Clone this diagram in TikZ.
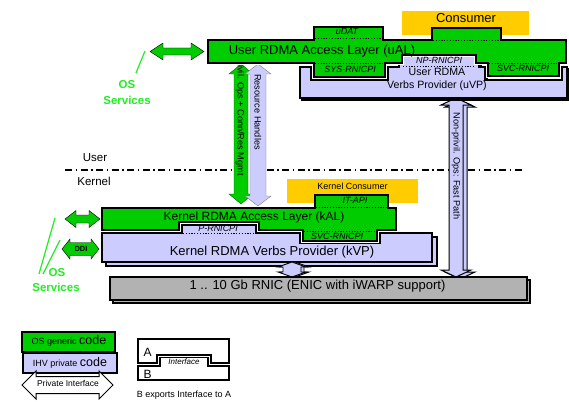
\documentclass[tikz,border=0pt]{standalone}
\usepackage{fontspec}
\setmainfont{Liberation Sans}
\definecolor{osgreen}{HTML}{00CC00}
\definecolor{lav}{HTML}{CCCCFF}
\definecolor{cons}{HTML}{FFCC00}
\definecolor{rgray}{HTML}{B2B2B2}
\definecolor{svcgreen}{HTML}{22EE22}
% vertical double arrow: x, ytop, ybottom, shaft half, head half, head length, style
\newcommand\vdarr[7]{\draw[#7] (#1,#2) -- ({#1+#5},{#2+#6}) -- ({#1+#4},{#2+#6}) -- ({#1+#4},{#3-#6}) -- ({#1+#5},{#3-#6}) -- (#1,#3) -- ({#1-#5},{#3-#6}) -- ({#1-#4},{#3-#6}) -- ({#1-#4},{#2+#6}) -- ({#1-#5},{#2+#6}) -- cycle;}
% horizontal double arrow: xleft, xright, y, shaft half, head half, head length, style
\newcommand\hdarr[7]{\draw[#7] (#1,#3) -- ({#1+#6},{#3-#5}) -- ({#1+#6},{#3-#4}) -- ({#2-#6},{#3-#4}) -- ({#2-#6},{#3-#5}) -- (#2,#3) -- ({#2-#6},{#3+#5}) -- ({#2-#6},{#3+#4}) -- ({#1+#6},{#3+#4}) -- ({#1+#6},{#3+#5}) -- cycle;}
\begin{document}
\begin{tikzpicture}[x=1pt,y=-1pt,
  box/.style={draw=black, line width=1.4pt, line join=miter},
  gapline/.style={draw=white, line width=4pt, line join=miter},
  lbl/.style={font=\fontsize{13}{14}\selectfont, inner sep=0pt},
  mlbl/.style={font=\fontsize{10.6}{12}\selectfont, inner sep=0pt},
  slbl/.style={font=\fontsize{9.2}{10}\selectfont, inner sep=0pt},
  ilbl/.style={font=\fontsize{9}{10}\selectfont\itshape, inner sep=0pt, text=black},
  dots/.style={line width=0.9pt, dash pattern=on 1.2pt off 1.6pt},
  ossvc/.style={font=\fontsize{11.5}{12}\selectfont\bfseries, text=svcgreen, inner sep=0pt},
  osline/.style={draw=svcgreen, line width=1.2pt}]
\useasboundingbox[fill=white] (0,0) rectangle (569,401);

% user / kernel boundary
\draw[line width=1.5pt, dash pattern=on 7pt off 3.5pt on 1.5pt off 3.5pt] (65,170) -- (522,170);
\node[font=\fontsize{11.5}{12}\selectfont, inner sep=0pt] (user) at (95,158) {User};
\node[font=\fontsize{11.5}{12}\selectfont, inner sep=0pt] (kernel) at (94,181) {Kernel};

% privileged ops / resource handles arrows
\vdarr{241}{64}{204}{7}{12}{10}{fill=osgreen, draw=green!40!black, line width=0.4pt}
\vdarr{258}{64}{206}{8}{13}{10}{fill=lav, draw=gray, line width=0.4pt}
\node[slbl, rotate=-90] (privops) at (240,116) {Privil. Ops + Conn/Res Mgmt};
\node[slbl, rotate=-90] (reshandles) at (258,112) {Resource Handles};

% fast path arrow
\vdarr{460}{100}{279}{7}{15}{7}{fill=lav, draw=black, line width=1pt}
\vdarr{456}{98}{277}{7}{15}{7}{fill=lav, draw=black, line width=1pt}
\node[slbl, rotate=-90] (fastpath) at (456,166) {Non-privil. Ops: Fast Path};

% ---------- user space ----------
\draw[box, fill=lav] (302,69) -- (313,69) -- (313,82) -- (390,82) -- (390,69) -- (401,69) -- (401,53) -- (481,53) -- (481,69) -- (487,69) -- (487,82) -- (564,82) -- (564,69) -- (569,69) -- (569,100) -- (302,100) -- cycle;
\draw[box, fill=lav] (300,67) -- (311,67) -- (311,80) -- (388,80) -- (388,67) -- (399,67) -- (399,51) -- (479,51) -- (479,67) -- (485,67) -- (485,80) -- (562,80) -- (562,67) -- (567,67) -- (567,98) -- (300,98) -- cycle;
\path[gapline] (208,40) -- (314,40) -- (314,27) -- (383,27) -- (383,40) -- (432,40) -- (432,28) -- (501,28) -- (501,40) -- (566,40) -- (566,63) -- (559,63) -- (559,76) -- (488,76) -- (488,63) -- (476,63) -- (476,55) -- (402,55) -- (402,63) -- (385,63) -- (385,77) -- (314,77) -- (314,63) -- (208,63) -- cycle;
\fill[cons] (402,11) rectangle (529,35);
\node[lbl] (consumer) at (466,18.5) {Consumer};
\draw[box, fill=osgreen] (208,40) -- (314,40) -- (314,27) -- (383,27) -- (383,40) -- (432,40) -- (432,28) -- (501,28) -- (501,40) -- (566,40) -- (566,63) -- (559,63) -- (559,76) -- (488,76) -- (488,63) -- (476,63) -- (476,55) -- (402,55) -- (402,63) -- (385,63) -- (385,77) -- (314,77) -- (314,63) -- (208,63) -- cycle;
\draw[dots] (315,38) -- (382,38);
\draw[dots] (433,40) -- (500,40);
\draw[dots] (315,63) -- (384,63);
\draw[dots] (489,63) -- (558,63);
\draw[dots] (403,66) -- (475,66);
\node[lbl] (ual) at (322,51) {User RDMA Access Layer (uAL)};
\node[ilbl] (udat) at (347,31.5) {uDAT};
\node[ilbl] (sysrnicpi) at (350,69.5) {SYS-RNICPI};
\node[ilbl] (nprnicpi) at (439,60) {NP-RNICPI};
\node[ilbl] (svcu) at (523,68.5) {SVC-RNICPI};
\node[mlbl] (uvp1) at (437,72) {User RDMA};
\node[mlbl] (uvp2) at (437,86) {Verbs Provider (uVP)};

% ---------- kernel space ----------
\draw[box, fill=lav] (106,237) -- (186,237) -- (186,229) -- (260,229) -- (260,237) -- (304,237) -- (304,247) -- (384,247) -- (384,237) -- (437,237) -- (437,266) -- (106,266) -- cycle;
\draw[box, fill=lav] (102,233) -- (182,233) -- (182,225) -- (256,225) -- (256,233) -- (300,233) -- (300,243) -- (380,243) -- (380,233) -- (432,233) -- (432,262) -- (102,262) -- cycle;
\path[gapline] (102,208) -- (315,208) -- (315,195) -- (388,195) -- (388,208) -- (396,208) -- (396,230) -- (377,230) -- (377,241) -- (303,241) -- (303,230) -- (259,230) -- (259,222) -- (179,222) -- (179,230) -- (102,230) -- cycle;
\fill[cons] (287,179) rectangle (418,203);
\node[font=\fontsize{9}{10}\selectfont, inner sep=0pt] (kcons) at (352.5,186) {Kernel Consumer};
\draw[box, fill=osgreen] (102,208) -- (315,208) -- (315,195) -- (388,195) -- (388,208) -- (396,208) -- (396,230) -- (377,230) -- (377,241) -- (303,241) -- (303,230) -- (259,230) -- (259,222) -- (179,222) -- (179,230) -- (102,230) -- cycle;
\draw[dots] (316,207) -- (387,207);
\draw[dots] (304,231) -- (376,231);
\draw[dots] (183,233) -- (255,233);
\node[font=\fontsize{12}{13}\selectfont, inner sep=0pt] (kal) at (254,217.5) {Kernel RDMA Access Layer (kAL)};
\node[ilbl] (itapi) at (355,200.5) {IT-API};
\node[ilbl] (svck) at (337,236.5) {SVC-RNICPI};
\node[ilbl] (prnicpi) at (218,228) {P-RNICPI};
\node[lbl] (kvp) at (272,252) {Kernel RDMA Verbs Provider (kVP)};

% kVP <-> RNIC
\vdarr{295}{262}{277}{9}{14}{5}{fill=lav, draw=black, line width=0.9pt}
\vdarr{292}{262}{277}{9}{14}{5}{fill=lav, draw=black, line width=0.9pt}

% RNIC
\draw[box, fill=rgray] (113,280) rectangle (530,303);
\draw[box, fill=rgray] (110,277) rectangle (527,300);
\node[lbl] (rnic) at (317.5,286.5) {1 .. 10 Gb RNIC (ENIC with iWARP support)};

% OS services (user)
\hdarr{150}{204}{51.5}{3.5}{8.5}{13}{fill=osgreen}
\draw[osline] (145,51) -- (136,73);
\node[ossvc] (os1) at (127,85) {OS};
\node[ossvc] (svc1) at (127,100.5) {Services};

% OS services (kernel)
\hdarr{65}{100}{219}{4}{8.5}{11}{fill=osgreen}
\hdarr{62}{99}{249}{6.5}{10}{8}{fill=osgreen}
\node[font=\fontsize{7.5}{8}\selectfont\bfseries, inner sep=0pt] (ddi) at (81,248.5) {DDI};
\draw[osline] (55,218) -- (39,274);
\draw[osline] (60,240) -- (43,274);
\node[ossvc] (os2) at (57,273) {OS};
\node[ossvc] (svc2) at (56,287.5) {Services};

% legend: code kinds
\draw[draw=black, line width=1.5pt, fill=osgreen] (22,332) rectangle (115,352);
\node[inner sep=0pt] (osgen) at (69,341) {\fontsize{9}{10}\selectfont OS generic \fontsize{12.5}{13}\selectfont code};
\draw[draw=black, line width=1.5pt, fill=lav] (23,353) rectangle (117,373);
\node[inner sep=0pt] (ihv) at (70,362.5) {\fontsize{9}{10}\selectfont IHV private \fontsize{12.5}{13}\selectfont code};
\hdarr{22}{113}{385}{8.5}{14}{14}{fill=white, draw=black, line width=1pt}
\node[font=\fontsize{8.5}{9}\selectfont, inner sep=0pt] (privif) at (68,383) {Private Interface};

% legend: interface
\draw[draw=black, line width=1.3pt, fill=white] (138,339) -- (229,339) -- (229,363) -- (211,363) -- (211,355) -- (157,355) -- (157,363) -- (138,363) -- cycle;
\draw[draw=black, line width=1.3pt, fill=white] (138,366) -- (160,366) -- (160,357.5) -- (208,357.5) -- (208,366) -- (229,366) -- (229,380) -- (138,380) -- cycle;
\node[font=\fontsize{12}{13}\selectfont, inner sep=0pt] (la) at (147.5,352) {A};
\node[font=\fontsize{12}{13}\selectfont, inner sep=0pt] (lb) at (147.5,374) {B};
\node[font=\fontsize{8}{9}\selectfont\itshape, inner sep=0pt] (lif) at (184,362) {Interface};
\node[font=\fontsize{9}{10}\selectfont, inner sep=0pt] (bexp) at (184,395) {B exports Interface to A};
\end{tikzpicture}
\end{document}
